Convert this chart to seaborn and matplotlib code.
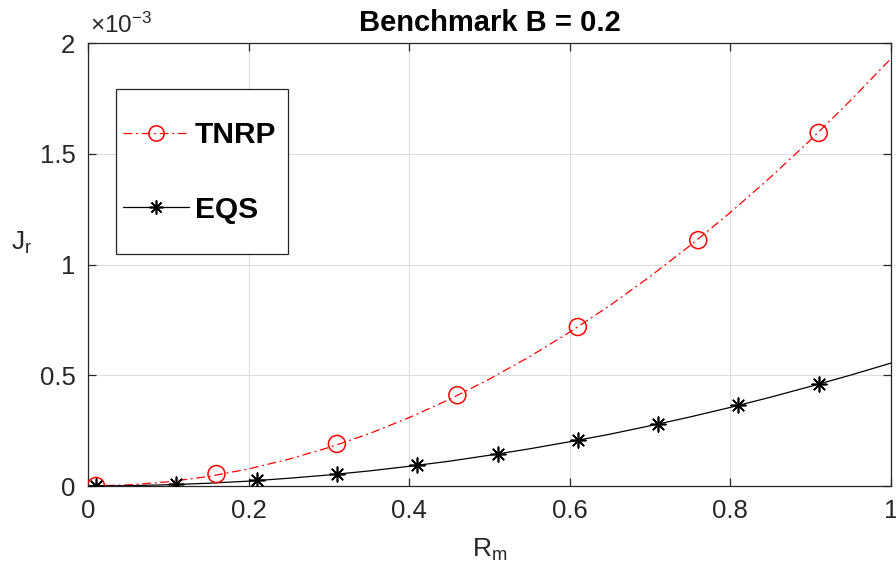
import matplotlib
matplotlib.use("Agg")
import matplotlib.pyplot as plt
import seaborn as sns
import pandas as pd
import numpy as np
from matplotlib.lines import Line2D
from matplotlib.patches import Rectangle

# curve samples (values in units of 1e-3)
curve_x = [0, 0.05, 0.1, 0.15, 0.2, 0.25, 0.3, 0.35, 0.4, 0.45, 0.5,
           0.55, 0.6, 0.65, 0.7, 0.75, 0.8, 0.85, 0.9, 0.95, 1.0]
tnrp_curve = [0, 0.005, 0.019, 0.043, 0.077, 0.121, 0.174, 0.236, 0.309, 0.391, 0.483,
              0.584, 0.695, 0.815, 0.946, 1.086, 1.235, 1.394, 1.563, 1.742, 1.93]
eqs_curve = [0, 0.0014, 0.0056, 0.0125, 0.022, 0.035, 0.05, 0.068, 0.089, 0.112, 0.139,
             0.168, 0.2, 0.234, 0.272, 0.312, 0.355, 0.401, 0.45, 0.501, 0.555]

# marker points
tnrp_x = [0.01, 0.16, 0.31, 0.46, 0.61, 0.76, 0.91]
tnrp_y = [0.0002, 0.054, 0.19, 0.41, 0.718, 1.11, 1.594]
eqs_x = [0.01, 0.11, 0.21, 0.31, 0.41, 0.51, 0.61, 0.71, 0.81, 0.91]
eqs_y = [0.0001, 0.007, 0.025, 0.055, 0.094, 0.146, 0.208, 0.282, 0.366, 0.46]

xticks = [0, 0.2, 0.4, 0.6, 0.8, 1]
xtick_labels = ['0', '0.2', '0.4', '0.6', '0.8', '1']
yticks = [0, 0.5, 1, 1.5, 2]
ytick_labels = ['0', '0.5', '1', '1.5', '2']

sns.set_theme(style="ticks")
plt.rcParams['font.family'] = ['Liberation Sans', 'DejaVu Sans']
plt.rcParams['mathtext.fontset'] = 'custom'
plt.rcParams['mathtext.rm'] = 'Liberation Sans'
plt.rcParams['mathtext.it'] = 'Liberation Sans'

dash = [7, 3, 1.5, 3]
star = (8, 2, 0)
grey = '#262626'

curves = pd.DataFrame({'Rm': curve_x, 'TNRP': tnrp_curve, 'EQS': eqs_curve})
pts_t = pd.DataFrame({'Rm': tnrp_x, 'Jr': tnrp_y})
pts_e = pd.DataFrame({'Rm': eqs_x, 'Jr': eqs_y})

fig = plt.figure(figsize=(8.96, 5.79), dpi=100)
ax = fig.add_axes([0.0982, 0.1606, 0.8962, 0.7651])

sns.lineplot(data=curves, x='Rm', y='TNRP', ax=ax, color='red', lw=0.9, sort=False)
ax.lines[-1].set_dashes(dash)
sns.lineplot(data=curves, x='Rm', y='EQS', ax=ax, color='black', lw=0.9, sort=False)
sns.scatterplot(data=pts_t, x='Rm', y='Jr', ax=ax, marker='o', s=150,
                facecolors='none', edgecolor='red', linewidth=1.1, zorder=3)
sns.scatterplot(data=pts_e, x='Rm', y='Jr', ax=ax, marker=star, s=110,
                color='black', edgecolor='black', linewidth=1.2, zorder=3)

ax.set_xlim(0, 1)
ax.set_ylim(0, 2)
ax.set_xticks(xticks)
ax.set_xticklabels(xtick_labels)
ax.set_yticks(yticks)
ax.set_yticklabels(ytick_labels)
ax.grid(True, color='#dcdcdc', lw=0.8)
for s in ax.spines.values():
    s.set_color(grey)
    s.set_linewidth(0.9)
ax.tick_params(direction='in', top=True, right=True, labelsize=18.5,
               length=6, width=0.9, color=grey, labelcolor=grey, pad=9)

ax.text(0.003, 1.012, '$\\times\\mathregular{10^{-3}}$', transform=ax.transAxes,
        fontsize=17.5, color=grey, ha='left', va='bottom')

ax.set_title('Benchmark B = 0.2', fontsize=21, fontweight='bold', color='black', pad=9)
ax.set_xlabel('$\\mathregular{R_m}$', fontsize=19, color=grey, labelpad=10)
ax.set_ylabel('$\\mathregular{J_r}$', fontsize=19, color=grey, rotation=0)
ax.yaxis.set_label_coords(-0.083, 0.52)

# legend frame
ax.add_patch(Rectangle((0.0349, 0.5237), 0.2142, 0.3725, transform=ax.transAxes,
                       facecolor='white', edgecolor=grey, lw=0.9, zorder=4))
handles = [Line2D([], [], color='red', lw=0.9, dashes=dash, marker='o',
                  markersize=11, markerfacecolor='none', markeredgewidth=1.1),
           Line2D([], [], color='black', lw=0.9, marker=star, markersize=10,
                  markeredgewidth=1.2)]
leg = ax.legend(handles, ['TNRP', 'EQS'], loc='upper left',
                bbox_to_anchor=(0.0436, 0.823), frameon=False,
                labelspacing=1.55, handlelength=2.2, handletextpad=0.2,
                borderpad=0, borderaxespad=0, labelcolor='black',
                prop={'weight': 'bold', 'size': 21.5})
leg.set_zorder(5)

fig.savefig('out.png', dpi=100)
